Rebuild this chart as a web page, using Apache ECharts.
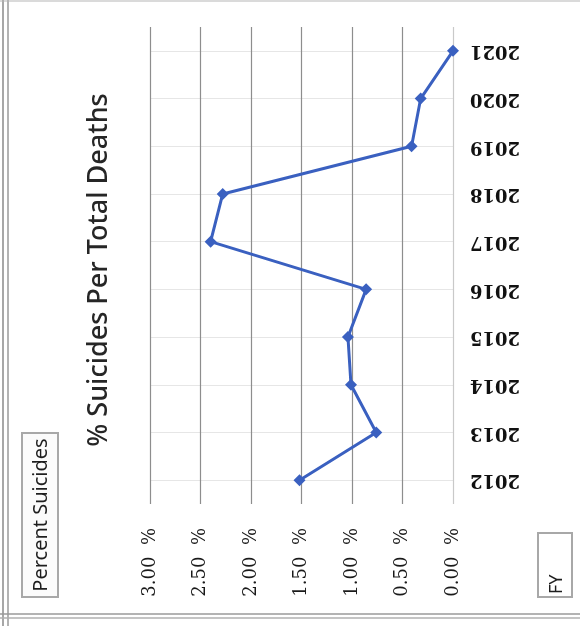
<!DOCTYPE html>
<html>
<head>
<meta charset="utf-8">
<style>
  html, body { margin: 0; padding: 0; background: #fff; }
  #chart { width: 580px; height: 626px; }
</style>
<script src="https://cdn.jsdelivr.net/npm/echarts@6/dist/echarts.min.js"></script>
</head>
<body>
<div id="chart"></div>
<script>
// Fiscal years and the share of deaths that were suicides (percent)
const years = ['2012', '2013', '2014', '2015', '2016', '2017', '2018', '2019', '2020', '2021'];
const percentSuicides = [1.52, 0.76, 1.01, 1.04, 0.86, 2.40, 2.28, 0.41, 0.32, 0.00];
const valueTicks = [0, 0.5, 1, 1.5, 2, 2.5, 3];

const chart = echarts.init(document.getElementById('chart'), null, { renderer: 'canvas' });

const gridColors = valueTicks.map((t, i) => (i === 0 ? '#c9c9c9' : '#8d8d8d'));

chart.setOption({
  animation: false,
  backgroundColor: '#ffffff',
  grid: { left: 150, right: 127, top: 27, bottom: 122, containLabel: false },
  xAxis: {
    type: 'value',
    inverse: true,
    position: 'bottom',
    min: valueTicks[0],
    max: valueTicks[valueTicks.length - 1],
    interval: 0.5,
    axisLine: { show: false },
    axisTick: { show: false },
    splitLine: { show: true, lineStyle: { color: gridColors, width: 1.2 } },
    axisLabel: {
      rotate: 90,
      margin: 24,
      color: '#1a1a1a',
      fontFamily: 'DejaVu Serif',
      fontSize: 18,
      formatter: v => v.toFixed(2) + '  %'
    }
  },
  yAxis: {
    type: 'category',
    data: years,
    position: 'right',
    boundaryGap: true,
    axisLine: { show: false },
    axisTick: { show: false },
    splitLine: { show: true, alignWithLabel: true, lineStyle: { color: '#e6e6e6', width: 1 } },
    axisLabel: {
      rotate: 180,
      margin: 17,
      color: '#111',
      fontFamily: 'DejaVu Serif',
      fontWeight: 'bold',
      fontSize: 18
    }
  },
  series: [{
    name: 'Percent Suicides',
    type: 'line',
    data: percentSuicides,
    symbol: 'diamond',
    symbolSize: 12,
    itemStyle: { color: '#3a60c0' },
    lineStyle: { color: '#3a60c0', width: 3 },
    z: 5
  }],
  graphic: [
    // outer frame
    { type: 'line', shape: { x1: 3, y1: 0, x2: 3, y2: 626 }, style: { stroke: '#8a8a8a', lineWidth: 1.5 } },
    { type: 'line', shape: { x1: 8, y1: 0, x2: 8, y2: 626 }, style: { stroke: '#9a9a9a', lineWidth: 1.5 } },
    { type: 'line', shape: { x1: 0, y1: 1, x2: 580, y2: 1 }, style: { stroke: '#b5b5b5', lineWidth: 1 } },
    { type: 'line', shape: { x1: 0, y1: 614, x2: 580, y2: 614 }, style: { stroke: '#9a9a9a', lineWidth: 1.5 } },
    { type: 'line', shape: { x1: 0, y1: 618, x2: 580, y2: 618 }, style: { stroke: '#b0b0b0', lineWidth: 1.5 } },
    // chart title, vertical
    {
      type: 'text', x: 99, y: 270, rotation: Math.PI / 2,
      style: {
        text: '% Suicides Per Total Deaths', x: 0, y: 0,
        align: 'center', verticalAlign: 'middle',
        fill: '#262626', font: '500 27px "Noto Sans"'
      }
    },
    // series field button
    {
      type: 'group', x: 40, y: 515, rotation: Math.PI / 2,
      children: [
        { type: 'rect', shape: { x: -82, y: -18, width: 164, height: 36 }, style: { fill: '#fbfbfb', stroke: '#a8a8a8', lineWidth: 2 } },
        { type: 'text', style: { text: 'Percent Suicides', x: 0, y: 1, align: 'center', verticalAlign: 'middle', fill: '#1e1e1e', font: '20px "Noto Sans"' } }
      ]
    },
    // axis field button
    {
      type: 'group', x: 555, y: 565, rotation: Math.PI / 2,
      children: [
        { type: 'rect', shape: { x: -32, y: -17, width: 64, height: 34 }, style: { fill: '#ffffff', stroke: '#a8a8a8', lineWidth: 2 } },
        { type: 'text', style: { text: 'FY', x: -29, y: 2, align: 'left', verticalAlign: 'middle', fill: '#1e1e1e', font: '18px "Noto Sans"' } }
      ]
    }
  ]
});
</script>
</body>
</html>
